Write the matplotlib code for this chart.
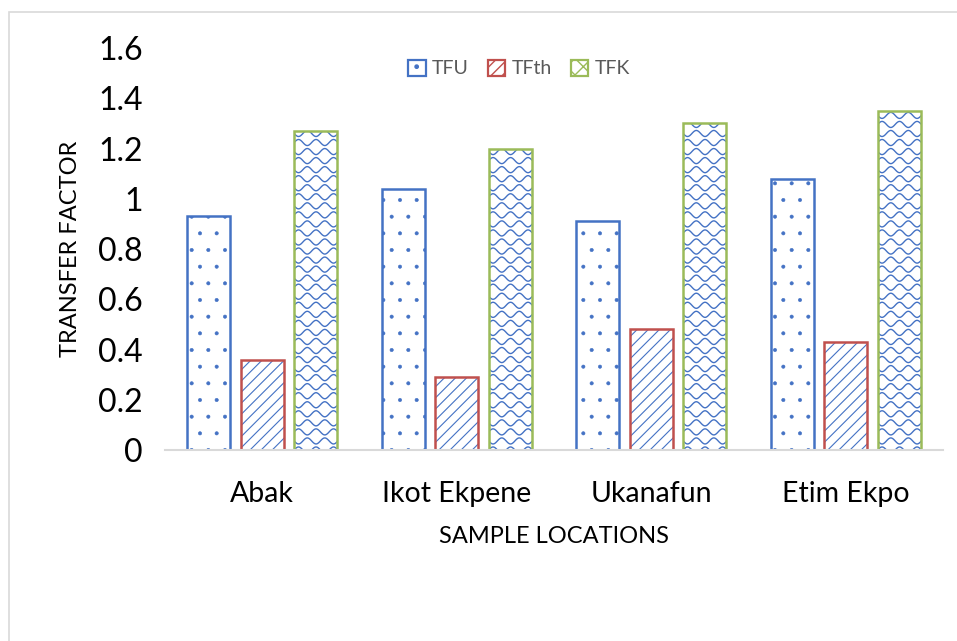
import numpy as np
import matplotlib
matplotlib.use("Agg")
import matplotlib.pyplot as plt
from matplotlib.patches import Rectangle

# transfer factors per sample location
locations = ["Abak", "Ikot Ekpene", "Ukanafun", "Etim Ekpo"]
tfu = [0.93, 1.04, 0.91, 1.08]
tfth = [0.36, 0.29, 0.48, 0.43]
tfk = [1.27, 1.20, 1.30, 1.35]

series = [("TFU", tfu, "#4472c4", "."),
          ("TFth", tfth, "#c0504d", "///"),
          ("TFK", tfk, "#9bbb59", None)]
hatch_blue = "#4472c4"

plt.rcParams['font.family'] = ['Lato', 'DejaVu Sans']

fig = plt.figure(figsize=(9.57, 6.41), dpi=100)
ax = fig.add_axes([0.1724, 0.298, 0.813, 0.627])

# light outer frame
fig.patches.append(Rectangle((9 / 957, -0.1), 1.2, 1 - 12 / 641 + 0.1,
                             transform=fig.transFigure, fill=False,
                             edgecolor="#d9d9d9", linewidth=1.2))

x = np.arange(len(locations))
pitch = 0.275
width = 0.222


def wave_fill(ax, left, height, w):
    # wavy blue texture clipped to the bar
    clip = Rectangle((left, 0), w, height, transform=ax.transData)
    xs = np.linspace(left, left + w, 120)
    period = 0.09
    amp = 0.012
    step = 0.036
    k = 0
    y0 = 0.0
    while y0 < height + step:
        phase = np.pi if k % 2 else 0.0
        ys = y0 + amp * np.sin(2 * np.pi * (xs - left) / period + phase)
        ln, = ax.plot(xs, ys, color=hatch_blue, lw=1.0)
        ln.set_clip_path(clip)
        y0 += step
        k += 1


for i, (name, vals, col, hatch) in enumerate(series):
    pos = x + (i - 1) * pitch
    if hatch is None:
        ax.bar(pos, vals, width, color="white", linewidth=0)
        for p, v in zip(pos, vals):
            wave_fill(ax, p - width / 2, v, width)
        handle_hatch = "xx"
    else:
        bars = ax.bar(pos, vals, width, color="white", edgecolor=hatch_blue,
                      hatch=hatch, linewidth=0)
        for b in bars:
            if hasattr(b, "set_hatch_linewidth"):
                b.set_hatch_linewidth(0.4 if hatch == "." else 0.8)
        handle_hatch = hatch
    ax.bar(pos, vals, width, color="none", edgecolor=col, linewidth=1.8,
           zorder=3)
    ax.bar([0], [0], 0, color="white", edgecolor=col, hatch=handle_hatch,
           linewidth=1.6, label=name)

ax.set_xlim(-0.5, len(locations) - 0.5)
ax.set_ylim(0, 1.6)
ax.set_yticks(np.arange(0, 1.61, 0.2))
ax.set_yticklabels(["0", "0.2", "0.4", "0.6", "0.8", "1", "1.2", "1.4", "1.6"])
ax.set_xticks(x)
ax.set_xticklabels(locations)
ax.tick_params(axis="y", length=0, pad=16, labelsize=23)
ax.tick_params(axis="x", length=0, pad=22, labelsize=20.5)

for s in ["top", "right", "left"]:
    ax.spines[s].set_visible(False)
ax.spines["bottom"].set_color("#d9d9d9")
ax.spines["bottom"].set_linewidth(1.5)
ax.spines["bottom"].set_zorder(4)

ax.set_ylabel("TRANSFER FACTOR", fontsize=17, labelpad=12)
ax.set_xlabel("SAMPLE LOCATIONS", fontsize=17, labelpad=14)

ax.legend(loc="upper center", bbox_to_anchor=(0.455, 1.015), ncol=3,
          frameon=False, fontsize=14, labelcolor="#595959",
          handlelength=0.9, handleheight=0.9, handletextpad=0.3,
          columnspacing=1.0)

fig.savefig("out.png", dpi=100)
